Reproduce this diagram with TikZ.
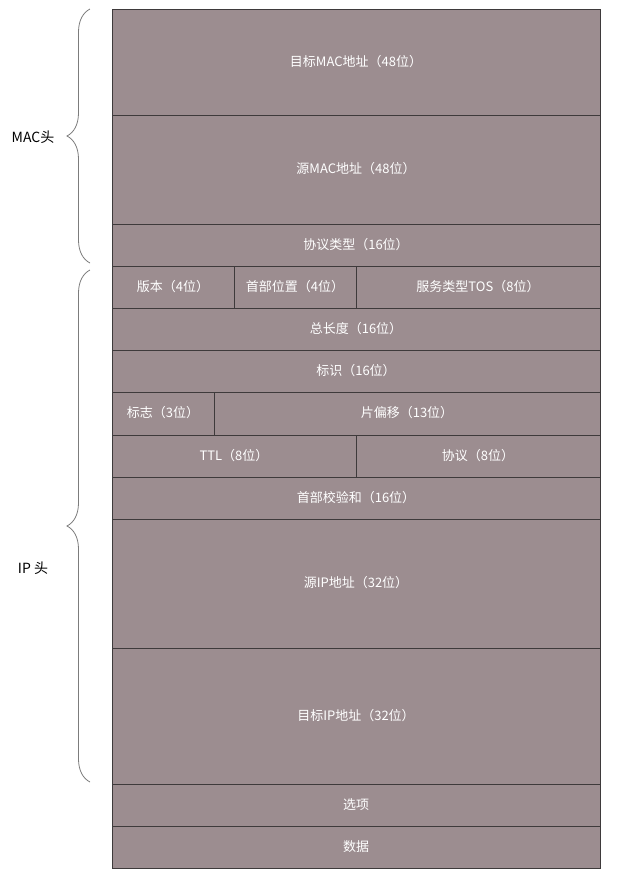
\documentclass[tikz,border=0pt]{standalone}
\usepackage{fontspec}
\setmainfont{Noto Sans CJK SC}
\usetikzlibrary{decorations.pathreplacing}

\definecolor{fieldgray}{HTML}{9C8D90}
\definecolor{fieldline}{HTML}{3E3A3B}
\definecolor{bracegray}{HTML}{7C7C7C}

% one header field: name, x1, y1, x2, y2, text
\def\field#1#2#3#4#5#6{
	\pgfmathsetmacro\fw{#4-#2}
	\pgfmathsetmacro\fh{#5-#3}
	\node [field, minimum width=\fw pt, minimum height=\fh pt]
		(#1) at ({(#2+#4)/2},{(#3+#5)/2}) {#6};
}

\begin{document}
\begin{tikzpicture}[x=1pt, y=-1pt,
	field/.style={draw=fieldline, fill=fieldgray, line width=0.8pt,
		inner sep=0pt, text=white, font=\fontsize{13}{15}\selectfont,
		text height=0.9em, text depth=0.1em},
	hbrace/.style={draw=bracegray, line width=0.8pt, decorate,
		decoration={brace, amplitude=23pt}},
	headlabel/.style={font=\fontsize{14}{16}\selectfont,
		text height=0.9em, text depth=0.1em},
	]
	\useasboundingbox (0,0) rectangle (621,884);

	% MAC header
	\field{dmac}{112}{9}{600}{115}{目标MAC地址（48位）}
	\field{smac}{112}{115}{600}{224}{源MAC地址（48位）}
	\field{ptype}{112}{224}{600}{266}{协议类型（16位）}

	% IP header
	\field{ver}{112}{266}{234}{308}{版本（4位）}
	\field{hlen}{234}{266}{356}{308}{首部位置（4位）}
	\field{tos}{356}{266}{600}{308}{服务类型TOS（8位）}
	\field{tlen}{112}{308}{600}{350}{总长度（16位）}
	\field{ident}{112}{350}{600}{392}{标识（16位）}
	\field{flags}{112}{392}{214}{435}{标志（3位）}
	\field{foff}{214}{392}{600}{435}{片偏移（13位）}
	\field{ttl}{112}{435}{356}{477}{TTL（8位）}
	\field{proto}{356}{435}{600}{477}{协议（8位）}
	\field{csum}{112}{477}{600}{519}{首部校验和（16位）}
	\field{sip}{112}{519}{600}{648}{源IP地址（32位）}
	\field{dip}{112}{648}{600}{784}{目标IP地址（32位）}
	\field{opts}{112}{784}{600}{826}{选项}
	\field{data}{112}{826}{600}{868}{数据}

	% braces
	\coordinate (mactop) at (90,9);
	\coordinate (macbot) at (90,263);
	\coordinate (iptop) at (90,270);
	\coordinate (ipbot) at (90,782);
	\draw [hbrace] (macbot) -- (mactop);
	\draw [hbrace] (ipbot) -- (iptop);

	\node [headlabel] (maclabel) at (33,138) {MAC头};
	\node [headlabel] (iplabel) at (33,569) {IP 头};
\end{tikzpicture}
\end{document}
